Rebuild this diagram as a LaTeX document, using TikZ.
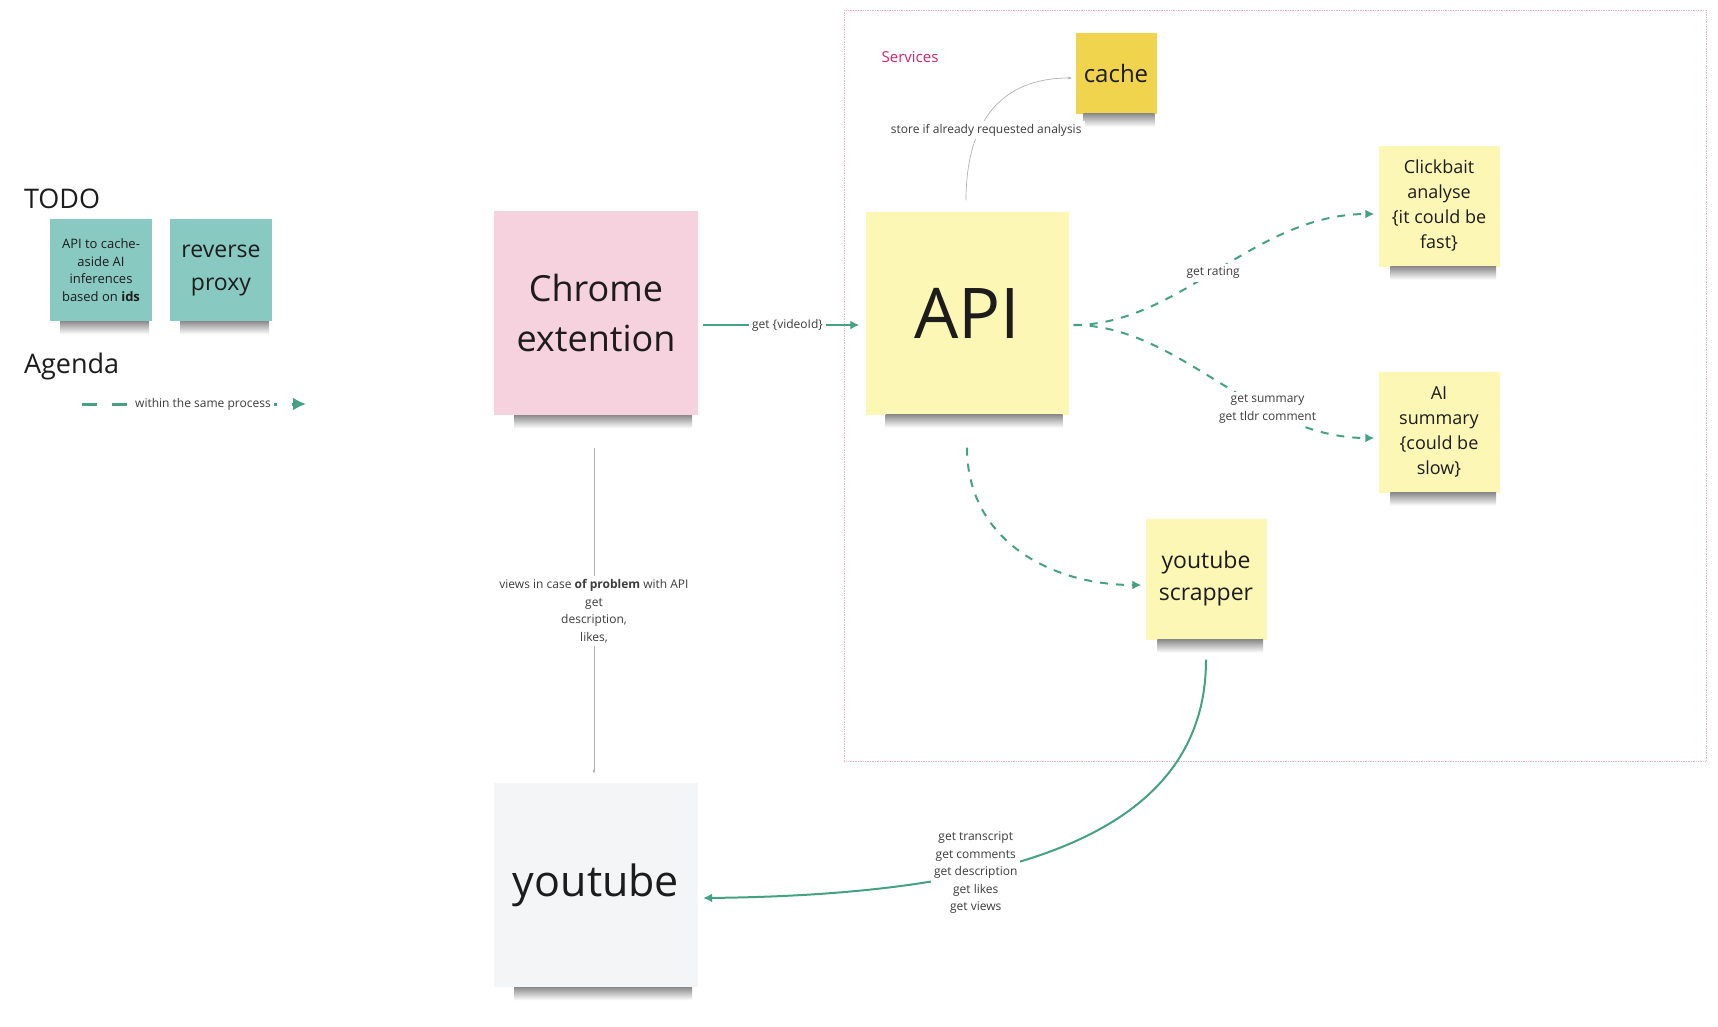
\documentclass[tikz,border=0pt]{standalone}
\usepackage{fontspec}
\setmainfont{Open Sans}
\usepackage{tikz}
\usetikzlibrary{calc, arrows.meta, positioning}

\definecolor{flowgreen}{HTML}{44A283}
\definecolor{ink}{HTML}{1C1C1C}
\definecolor{lblgray}{HTML}{3C3C3C}
\definecolor{paleyellow}{HTML}{FDF7B6}
\definecolor{gold}{HTML}{F1D44E}
\definecolor{pinknote}{HTML}{F6D1DE}
\definecolor{greynote}{HTML}{F4F5F7}
\definecolor{tealnote}{HTML}{88C9C2}
\definecolor{svcred}{HTML}{D9236A}
\definecolor{svcborder}{HTML}{E9B3C6}

\tikzset{
  sticky/.style={rectangle, minimum width=#1, minimum height=#1, align=center, inner sep=0pt, text=ink},
  noteshadow/.style={top color=black!45, bottom color=white},
  flow/.style={draw=flowgreen, line width=2pt},
  flowdash/.style={flow, dash pattern=on 8pt off 8pt},
  hint/.style={draw=gray!60, line width=.7pt, -{Latex[length=4pt,width=3pt]}},
  lbl/.style={fill=white, text=lblgray, font=\fontsize{12}{17.5}\selectfont, align=center, inner sep=3pt},
  svcbox/.style={draw=svcborder, densely dotted, line width=.7pt},
  heading/.style={anchor=west, text=ink, font=\fontsize{27}{32}\selectfont}
}

\begin{document}
\begin{tikzpicture}[x=1pt,y=-1pt,inner sep=.8pt,node distance=120pt,>={Latex[length=9pt,width=9pt]}]
\useasboundingbox [fill=white] (0,0) rectangle (1718,1026);
\draw [svcbox] (844,10) rectangle (1706,761);
\draw node [text=svcred,font=\fontsize{15}{18}\selectfont] (svc) at (910,57) {Services};

\draw node [heading] (todo) at (23,199) {TODO};
\draw node [sticky=102pt,fill=tealnote,font=\fontsize{13}{17.5}\selectfont] (idea1) at (101,270) {API to cache-\\aside AI\\inferences\\based on \textbf{ids}};
\draw node [sticky=102pt,fill=tealnote,font=\fontsize{23}{33}\selectfont] [right of=idea1] (idea2) {reverse\\proxy};
\draw node [heading] (agenda) at (23,366) {Agenda};
\coordinate (lgA) at (82,404);
\coordinate (lgB) at (306,404);
\draw [flow,line width=3pt,dash pattern=on 15pt off 15pt,-{Latex[length=13pt,width=13pt]}] (lgA) -- (lgB) node [lbl,pos=.54] (lgtext) {within the same process};

\draw node [sticky=204pt,fill=pinknote,font=\fontsize{36}{50}\selectfont] (chrome) at (596,313) {Chrome\\extention};
\draw node [sticky=204pt,fill=greynote,font=\fontsize{43}{56}\selectfont] [node distance=572pt,below of=chrome] (yt) {youtube};
\draw node [sticky=203pt,fill=paleyellow,font=\fontsize{70}{84}\selectfont] (api) at (967,313) {API};
\draw node [sticky=81pt,fill=gold,font=\fontsize{24}{30}\selectfont] (cache) at (1116,73) {cache};
\draw node [sticky=121pt,fill=paleyellow,font=\fontsize{18}{25}\selectfont] (click) at (1439,206) {Clickbait\\analyse\\\{it could be\\fast\}};
\draw node [sticky=121pt,fill=paleyellow,font=\fontsize{18}{25}\selectfont] [node distance=226pt,below of=click] (aisum) {AI\\summary\\\{could be\\slow\}};
\draw node [sticky=121pt,fill=paleyellow,font=\fontsize{23}{32}\selectfont] (scrap) at (1206,579) {youtube\\scrapper};

% soft shadow under every sticky note
\foreach \n in {idea1,idea2,chrome,yt,api,cache,click,aisum,scrap}
  \shade [noteshadow] ($ (\n.south west)!0.1!(\n.south east) $) rectangle ($ (\n.south west)!0.97!(\n.south east) + (0,13) $);

\draw [flow,->] ($ (chrome.east) + (5,12) $) -- ($ (api.west) + (-6,12) $) node [lbl,pos=.54] (vidlbl) {get \{videoId\}};
\draw [hint] ($ (api.north) + (-1,-11) $) .. controls ($ (api.north) + (-1,-91) $) and ($ (cache.west) + (-73,5) $) .. ($ (cache.west) + (-3,5) $) node [lbl,pos=.35,xshift=7pt] (storelbl) {store if already requested analysis};
\draw [flowdash,->] ($ (api.east) + (5,12) $) .. controls ($ (api.east) + (111,12) $) and ($ (click.west) + (-124,8) $) .. ($ (click.west) + (-4,8) $) node [lbl,pos=.48] (ratelbl) {get rating};
\draw [flowdash,->] ($ (api.east) + (5,12) $) .. controls ($ (api.east) + (111,12) $) and ($ (aisum.west) + (-124,6) $) .. ($ (aisum.west) + (-4,6) $) node [lbl,pos=.67] (sumlbl) {get summary\\get tldr comment};
\draw [flowdash,->] ($ (api.south) + (0,33) $) .. controls ($ (api.south) + (0,125) $) and ($ (scrap.west) + (-95,6) $) .. ($ (scrap.west) + (-4,6) $);
\draw [flow,->] ($ (scrap.south) + (0,20) $) .. controls ($ (scrap.south) + (0,200) $) and ($ (yt.east) + (300,10) $) .. ($ (yt.east) + (5,13) $) node [lbl,pos=.65] (getlbl) {get transcript\\get comments\\get description\\get likes\\get views};
\draw [hint] ($ (chrome.south) + (-2,33) $) -- ($ (yt.north) + (-2,-9) $) node [lbl,pos=.5] (fallbacklbl) {views in case \textbf{of problem} with API\\get\\description,\\likes,};
\end{tikzpicture}
\end{document}
